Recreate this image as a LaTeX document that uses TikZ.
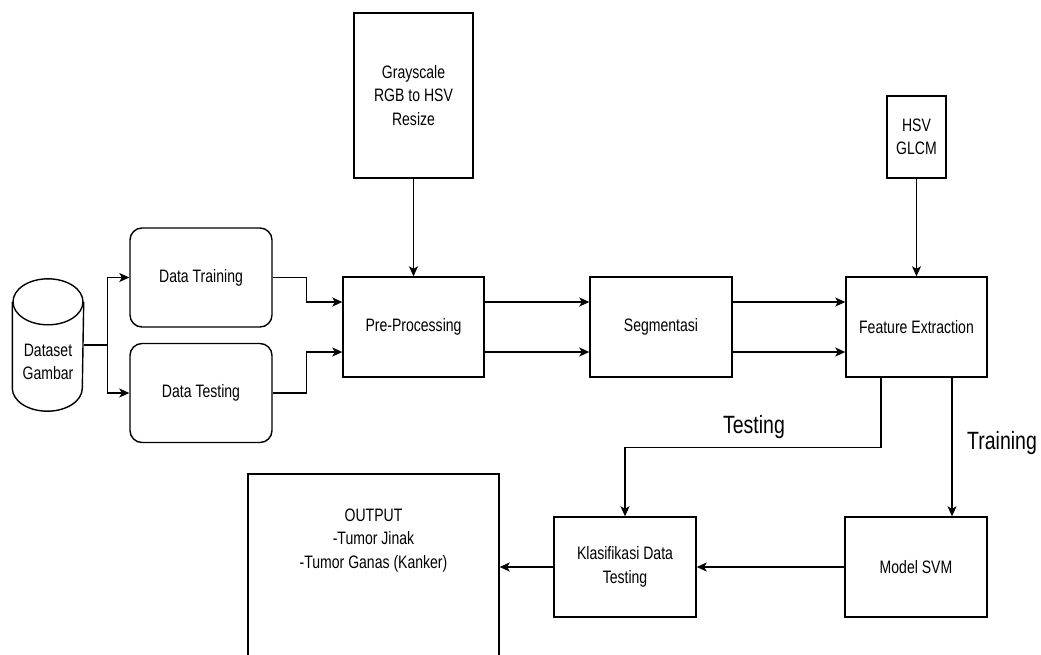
\documentclass[tikz,border=0pt]{standalone}
\usepackage{fontspec}
\setmainfont{Liberation Sans}
\newfontfamily\diagfont[FakeStretch=0.78]{Liberation Sans}
\usetikzlibrary{arrows.meta,calc}
\begin{document}
\begin{tikzpicture}[x=1pt,y=-1pt,
  every node/.style={font=\diagfont\fontsize{18}{23.5}\selectfont, align=center, line width=1.4pt, inner sep=0pt},
  box/.style={draw, rectangle, minimum width=#1},
  rbox/.style={draw, rectangle, rounded corners=12pt, minimum width=142pt, minimum height=99pt},
  arr/.style={line width=1.4pt, -{Stealth[length=10pt,width=9pt,inset=2.5pt]}},
  ln/.style={line width=1.4pt},
  biglabel/.style={font=\diagfont\fontsize{25}{30}\selectfont}
]
\clip (0,0) rectangle (1041,654);
\fill[white] (0,0) rectangle (1041,654);

% cylinder
\node (ds) [minimum width=70pt, minimum height=131pt] at (48,345) {};
\draw[ln, fill=white] ($(ds.north west)+(0,23)$) -- ($(ds.south west)+(0,-23)$)
  arc[start angle=180, end angle=0, x radius=35, y radius=23] -- ($(ds.north east)+(0,23)$);
\draw[ln] ($(ds.north)+(0,23)$) ellipse[x radius=35, y radius=23];
\node (dstxt) at ($(ds.center)+(0,17)$) {Dataset\\Gambar};

\node (dtr) [rbox] at (201,277.5) {Data Training};
\node (dte) [rbox] at (201,393) {Data Testing};

\node (pp) [box=141pt, minimum height=100pt] at (413.5,327) {Pre-Processing};
\node (gs) [box=119pt, minimum height=165pt] at (413.5,95.5) {Grayscale\\RGB to HSV\\Resize};
\node (seg) [box=142pt, minimum height=100pt] at (661,327) {Segmentasi};
\node (fe) [box=141pt, minimum height=100pt] at (916.5,327) {Feature Extraction};
\node (hsv) [box=59pt, minimum height=82pt] at (916.5,137) {HSV\\GLCM};
\node (ms) [box=142pt, minimum height=100pt] at (916,567) {Model SVM};
\node (kl) [box=142pt, minimum height=100pt] at (625,567) {Klasifikasi Data\\Testing};
\node (out) [box=251pt, minimum height=186pt] at (373.5,567) {};
\node (outtxt) at ($(out.north)+(0,67)$) {OUTPUT\\-Tumor Jinak\\-Tumor Ganas (Kanker)};

% connectors
\coordinate (br) at ($(ds.east)+(24,0)$);
\draw[ln] (ds.east) -- (br);
\draw[arr] (br) |- (dtr.west);
\draw[arr] (br) |- (dte.west);

\draw[arr] (dtr.east) -| ($(pp.west)+(-36,-25)$) -- ($(pp.west)+(0,-25)$);
\draw[arr] (dte.east) -| ($(pp.west)+(-36,25)$) -- ($(pp.west)+(0,25)$);

\draw[arr] (gs.south) -- (pp.north);
\draw[arr] ($(pp.east)+(0,-25)$) -- ($(seg.west)+(0,-25)$);
\draw[arr] ($(pp.east)+(0,25)$) -- ($(seg.west)+(0,25)$);
\draw[arr] ($(seg.east)+(0,-25)$) -- ($(fe.west)+(0,-25)$);
\draw[arr] ($(seg.east)+(0,25)$) -- ($(fe.west)+(0,25)$);
\draw[arr] (hsv.south) -- (fe.north);

\draw[arr] ($(fe.south)+(-35.5,0)$) -- ++(0,70) -| (kl.north);
\draw[arr] ($(fe.south)+(35.5,0)$) -- ($(ms.north)+(36,0)$);
\draw[arr] (ms.west) -- (kl.east);
\draw[arr] (kl.west) -- (out.east);

\node (lt) [biglabel] at (754,427) {Testing};
\node (ltr) [biglabel] at (1002,443) {Training};
\end{tikzpicture}
\end{document}
